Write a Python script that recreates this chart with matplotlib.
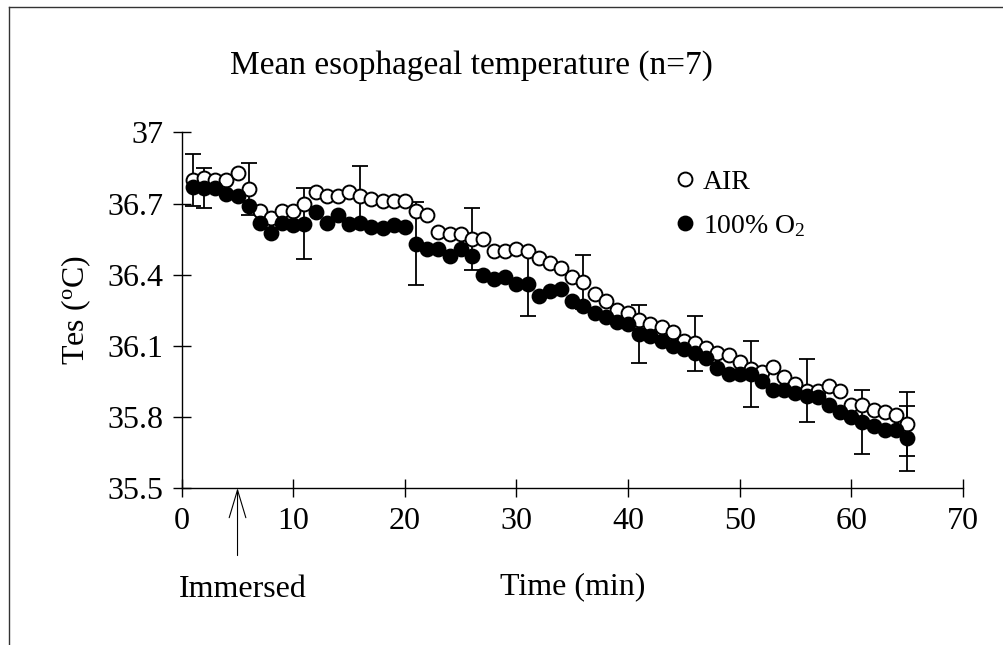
import numpy as np
import matplotlib
matplotlib.use("Agg")
import matplotlib.pyplot as plt
from matplotlib.lines import Line2D

plt.rcParams.update({"font.family": "Liberation Serif",
                     "mathtext.fontset": "custom",
                     "mathtext.rm": "Liberation Serif",
                     "mathtext.it": "Liberation Serif:italic"})

# minutes 1..65
minutes = list(range(1, 66))
air = [36.80, 36.81, 36.80, 36.80, 36.83, 36.76, 36.67, 36.64, 36.67, 36.67,
       36.70, 36.75, 36.73, 36.73, 36.75, 36.73, 36.72, 36.71, 36.71, 36.71,
       36.67, 36.65, 36.58, 36.57, 36.57, 36.55, 36.55, 36.50, 36.50, 36.51,
       36.50, 36.47, 36.45, 36.43, 36.39, 36.37, 36.32, 36.29, 36.25, 36.24,
       36.21, 36.19, 36.18, 36.16, 36.12, 36.11, 36.09, 36.07, 36.06, 36.03,
       36.00, 35.99, 36.01, 35.97, 35.94, 35.91, 35.91, 35.93, 35.91, 35.85,
       35.85, 35.83, 35.82, 35.81, 35.77]
oxy = [36.77, 36.765, 36.765, 36.74, 36.73, 36.69, 36.62, 36.575, 36.62, 36.61,
       36.615, 36.665, 36.62, 36.65, 36.615, 36.62, 36.60, 36.595, 36.61, 36.60,
       36.53, 36.51, 36.51, 36.48, 36.51, 36.48, 36.40, 36.38, 36.39, 36.36,
       36.36, 36.31, 36.33, 36.34, 36.29, 36.27, 36.24, 36.22, 36.20, 36.19,
       36.15, 36.14, 36.12, 36.10, 36.085, 36.07, 36.05, 36.005, 35.98, 35.98,
       35.98, 35.95, 35.915, 35.915, 35.90, 35.89, 35.885, 35.85, 35.82, 35.80,
       35.78, 35.76, 35.745, 35.745, 35.71]

# error bars (SE) shown only at a few time points
air_eb_t = [1, 6, 16, 26, 36, 46, 56, 65]
air_eb = [0.11, 0.11, 0.127, 0.13, 0.113, 0.117, 0.133, 0.135]
oxy_eb_t = [2, 11, 21, 31, 41, 51, 61, 65]
oxy_eb = [0.085, 0.15, 0.175, 0.134, 0.123, 0.14, 0.135, 0.137]

xticks = [0, 10, 20, 30, 40, 50, 60, 70]
yticks = [35.5, 35.8, 36.1, 36.4, 36.7, 37.0]
ylabels = ["35.5", "35.8", "36.1", "36.4", "36.7", "37"]

fig = plt.figure(figsize=(10.04, 6.45), dpi=100)
ax = fig.add_axes([0.181, 0.2434, 0.778, 0.5512])

air_s = dict(zip(minutes, air))
oxy_s = dict(zip(minutes, oxy))
ax.errorbar(air_eb_t, [air_s[t] for t in air_eb_t], yerr=air_eb, fmt="none",
            ecolor="black", elinewidth=1.3, capsize=6, capthick=1.3, zorder=1)
ax.errorbar(oxy_eb_t, [oxy_s[t] for t in oxy_eb_t], yerr=oxy_eb, fmt="none",
            ecolor="black", elinewidth=1.3, capsize=6, capthick=1.3, zorder=1)
ax.plot(minutes, air, "o", ms=10, mfc="white", mec="black", mew=1.4, zorder=2)
ax.plot(minutes, oxy, "o", ms=10, mfc="black", mec="black", mew=1.4, zorder=3)

ax.set_xlim(0, 70)
ax.set_ylim(35.5, 37.0)
ax.set_xticks(xticks)
ax.set_yticks(yticks)
ax.set_yticklabels(ylabels)
ax.tick_params(direction="inout", length=13, width=1, labelsize=23, pad=7)
for s in ["top", "right"]:
    ax.spines[s].set_visible(False)
ax.spines["left"].set_linewidth(1)
ax.spines["bottom"].set_linewidth(1)

ax.set_xlabel("Time (min)", fontsize=23, labelpad=26)
ax.set_ylabel("Tes ($\\mathregular{^o}$C)", fontsize=23, labelpad=10)
fig.text(0.470, 0.899, "Mean esophageal temperature (n=7)", fontsize=24,
         ha="center", va="center")

# legend
handles = [Line2D([], [], ls="none", marker="o", ms=10, mfc="white", mec="black", mew=1.4),
           Line2D([], [], ls="none", marker="o", ms=10, mfc="black", mec="black", mew=1.4)]
ax.legend(handles, ["AIR", "100% O$\\mathregular{_2}$"], loc="upper left",
          bbox_to_anchor=(0.612, 0.935), frameon=False, fontsize=20,
          handlelength=0.8, handletextpad=0.25, labelspacing=0.65, borderpad=0)

# immersion arrow at 5 min
ax.annotate("", xy=(5, 35.5), xytext=(5, 35.215), annotation_clip=False,
            arrowprops=dict(arrowstyle="->,head_length=1.0,head_width=0.3",
                            lw=0.8, color="black", mutation_scale=20,
                            shrinkA=0, shrinkB=0))
ax.text(5.5, 35.07, "Immersed", fontsize=23, ha="center", va="center")

# page frame (top and left edges)
fig.add_artist(Line2D([9 / 1004, 9 / 1004], [0, 1 - 7 / 645], color="0.2", lw=1,
                      transform=fig.transFigure))
fig.add_artist(Line2D([9 / 1004, 1], [1 - 7 / 645, 1 - 7 / 645], color="0.2", lw=1,
                      transform=fig.transFigure))

fig.savefig("out.png", dpi=100)
